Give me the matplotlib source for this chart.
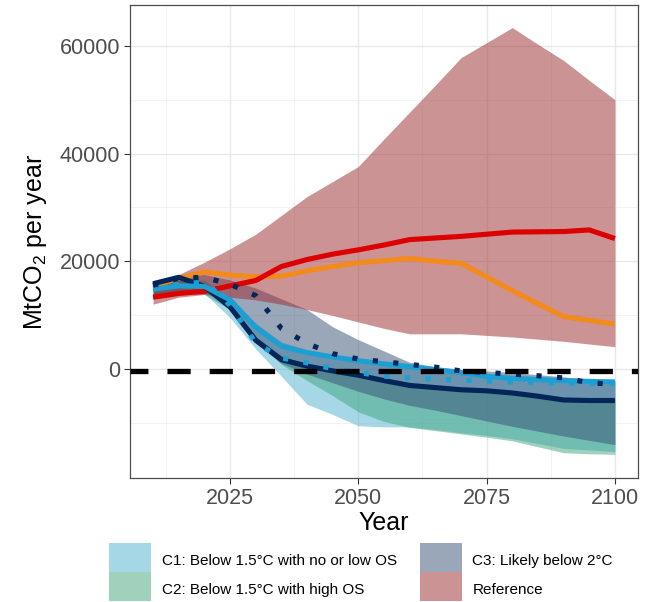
import numpy as np
import matplotlib
matplotlib.use("Agg")
import matplotlib.pyplot as plt
from matplotlib.patches import Patch, Rectangle
from matplotlib.legend_handler import HandlerPatch
from matplotlib.ticker import FixedLocator

plt.rcParams['font.family'] = ['Liberation Sans', 'DejaVu Sans']
plt.rcParams['mathtext.fontset'] = 'custom'
plt.rcParams['mathtext.rm'] = 'Liberation Sans'

# ==========================
# Datos
# ==========================
years = [2010, 2015, 2020, 2025, 2030, 2035, 2040, 2045, 2050, 2055,
         2060, 2065, 2070, 2075, 2080, 2085, 2090, 2095, 2100]

# bandas (rango de escenarios)
ref_hi = [15500, 17500, 19800, 22300, 25000, 28500, 32000, 34800, 37600, 42700,
          47700, 52700, 57800, 60600, 63400, 60300, 57300, 53600, 50000]
ref_lo = [12000, 13300, 13800, 13300, 12800, 12000, 11000, 9900, 8700, 7500,
          6500, 6500, 6500, 6200, 5900, 5500, 5100, 4600, 4100]
c3_hi = [16000, 17200, 17500, 16500, 15000, 13000, 11000, 7800, 5400, 3300,
         1200, 400, -100, -400, -700, -1100, -1500, -2000, -2300]
c3_lo = [13500, 14500, 14500, 11000, 5000, 1000, -1000, -2600, -4200, -5600,
         -6800, -7700, -8700, -9700, -10700, -11600, -12500, -13300, -14100]
c2_hi = [16000, 17200, 15800, 12000, 6000, 2500, 800, -200, -1000, -2000,
         -2900, -3300, -3700, -4000, -4300, -4900, -5500, -5600, -5600]
c2_lo = [13000, 14000, 13800, 11000, 5000, 800, -2200, -5000, -8000, -9800,
         -10900, -11500, -12100, -12700, -13400, -14500, -15600, -15800, -15900]
c1_hi = [15500, 16500, 16500, 13000, 8500, 5000, 3500, 2500, 1800, 1100,
         500, 0, -500, -900, -1200, -1500, -1800, -2000, -2100]
c1_lo = [13500, 14500, 14000, 9500, 3700, -1400, -6600, -8500, -10600, -10800,
         -10800, -11300, -11900, -12400, -13000, -13900, -14800, -15100, -15400]

# lineas
red_line = [13300, 14000, 14400, 15400, 16400, 19000, 20300, 21300, 22100, 23000,
            24000, 24300, 24600, 25000, 25400, 25450, 25500, 25800, 24200]
orange_line = [15400, 16800, 18000, 17400, 17100, 17200, 18200, 19000, 19700, 20100,
               20500, 20000, 19600, 17100, 14500, 12100, 9700, 9000, 8300]
navy_solid = [15800, 17000, 15300, 11500, 5300, 1700, 500, -400, -1200, -2200,
              -3100, -3500, -3900, -4100, -4500, -5100, -5800, -5900, -5900]
blue_solid = [14800, 15400, 15300, 12800, 7700, 4200, 3000, 2200, 1500, 900,
              400, -200, -700, -1400, -1800, -2000, -2200, -2350, -2450]
blue_dotted = [15000, 16000, 16300, 11800, 4800, 2000, 1100, 0, -700, -1400,
               -1700, -1950, -2150, -2300, -2500, -2600, -2700, -2750, -2800]
navy_dotted = [15500, 16800, 17000, 15700, 13600, 7500, 4700, 2800, 1800, 1300,
               800, 300, -400, -700, -1000, -1300, -1700, -2600, -2900]
target = -500

band_labels = ['C1: Below 1.5°C with no or low OS', 'C2: Below 1.5°C with high OS',
               'C3: Likely below 2°C', 'Reference']
band_colors = ['#4db1d1', '#41a57d', '#355175', '#9b292d']


def _full_box(legend, orig_handle, xdescent, ydescent, width, height, fontsize):
    # caja que ocupa toda la altura de la fila (como ggplot)
    return Rectangle(xy=(-xdescent, -ydescent), width=width, height=height + ydescent)


def main():
    fig = plt.figure(figsize=(6.64, 6.02), dpi=100)
    ax = fig.add_axes([130 / 664, 124 / 602, 508 / 664, 473 / 602])

    bands = [(c1_lo, c1_hi), (c2_lo, c2_hi), (c3_lo, c3_hi), (ref_lo, ref_hi)]
    for (lo, hi), col in zip(bands, band_colors):
        ax.fill_between(years, lo, hi, color=col, alpha=0.5, linewidth=0, zorder=2)

    lw = 3.7
    ax.plot(years, orange_line, color='#f28a1c', lw=lw, solid_capstyle='butt', zorder=3)
    ax.plot(years, red_line, color='#dd0000', lw=lw, solid_capstyle='butt', zorder=3)
    ax.plot(years, navy_solid, color='#03265a', lw=lw, solid_capstyle='butt', zorder=3)
    ax.plot(years, blue_solid, color='#1ca0d4', lw=lw, solid_capstyle='butt', zorder=3)
    ax.plot(years, blue_dotted, color='#1ca0d4', lw=lw, linestyle=(0, (1, 3)),
            dash_capstyle='butt', zorder=4)
    ax.plot(years, navy_dotted, color='#03265a', lw=lw, linestyle=(0, (1, 3)),
            dash_capstyle='butt', zorder=4)
    ax.axhline(target, color='black', lw=3.8, linestyle=(1.0, (4.4, 3.6)),
               dash_capstyle='butt', zorder=5)

    ax.set_xlim(2005.5, 2104.5)
    ax.set_ylim(-20300, 67600)
    ax.xaxis.set_major_locator(FixedLocator([2025, 2050, 2075, 2100]))
    ax.xaxis.set_minor_locator(FixedLocator([2012.5, 2037.5, 2062.5, 2087.5]))
    ax.yaxis.set_major_locator(FixedLocator([0, 20000, 40000, 60000]))
    ax.yaxis.set_minor_locator(FixedLocator([-10000, 10000, 30000, 50000]))
    ax.set_yticklabels(['0', '20000', '40000', '60000'])

    ax.grid(True, which='major', color='#e8e8e8', lw=1.0, zorder=0)
    ax.grid(True, which='minor', color='#f0f0f0', lw=0.6, zorder=0)
    ax.set_axisbelow(True)
    ax.tick_params(which='major', length=4, width=0.8, color='#333333',
                   labelsize=15.5, labelcolor='#4d4d4d', pad=3)
    ax.tick_params(which='minor', length=0)
    for s in ax.spines.values():
        s.set_color('#4d4d4d')
        s.set_linewidth(0.9)

    ax.set_xlabel('Year', fontsize=18, labelpad=2)
    ax.set_ylabel(r'MtCO$_\mathregular{2}$ per year', fontsize=18, labelpad=8)

    handles = [Patch(facecolor=c, alpha=0.5, edgecolor='none') for c in band_colors]
    fig.legend(handles, band_labels, loc='upper left', ncol=2,
               bbox_to_anchor=(109 / 664, 1 - 549 / 602), frameon=False,
               fontsize=11, handlelength=2.75, handleheight=1.9,
               handletextpad=0.7, labelspacing=0.42, columnspacing=1.5,
               borderpad=0, borderaxespad=0,
               handler_map={Patch: HandlerPatch(patch_func=_full_box)})

    fig.savefig('out.png', dpi=100)


if __name__ == '__main__':
    main()
